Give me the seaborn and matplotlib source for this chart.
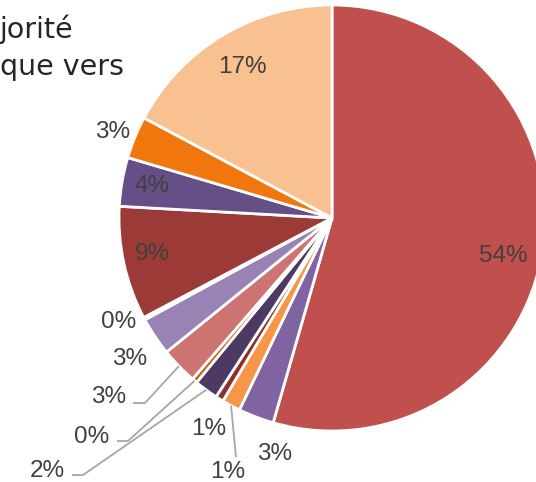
import matplotlib
matplotlib.use("Agg")
import matplotlib.pyplot as plt
import seaborn as sns
import numpy as np

# Slice shares in clockwise order starting at 12 o'clock
categories = [
    "Catégorie A", "Catégorie B", "Catégorie C", "Catégorie D", "Catégorie E",
    "Catégorie F", "Catégorie G", "Catégorie H", "Catégorie I", "Catégorie J",
    "Catégorie K", "Catégorie L", "Catégorie M",
]
shares = [54.4, 2.7, 1.4, 0.6, 1.8, 0.4, 2.8, 2.9, 0.2, 8.6, 3.7, 3.2, 17.2]
slice_colors = [
    "#C0504D", "#8064A2", "#F79646", "#8E2F2B", "#4D3A62", "#C0600E",
    "#CD7371", "#9983B5", "#E46C0A", "#9C3A38", "#664F87", "#F2760E", "#F9C090",
]
title_lines = ["jorité", "que vers"]

W, H = 536, 482
sns.set_theme(style="white")
plt.rcParams["font.family"] = ["Liberation Sans", "DejaVu Sans"]

fig = plt.figure(figsize=(W / 100, H / 100), dpi=100)
ax = fig.add_axes([0, 0, 1, 1])


def yy(y_px):
    """Top-down pixel row to axis y."""
    return H - y_px


center = (332, yy(218))
radius = 213

wedges, _ = ax.pie(
    shares,
    colors=slice_colors,
    startangle=90,
    counterclock=False,
    center=center,
    radius=radius,
    wedgeprops=dict(edgecolor="white", linewidth=2.0),
    frame=True,
)
ax.set_xlim(0, W)
ax.set_ylim(0, H)
ax.set_aspect("equal")
ax.axis("off")

total = sum(shares)
pct_labels = [f"{round(v / total * 100):.0f}%" for v in shares]

# Label anchor (x centre, baseline) and optional leader elbows
label_anchor = [
    (503, 262), (275, 460), (228, 478), (209, 435), (47, 477), (92, 443),
    (109, 403), (130, 365), (119, 328), (152, 260), (152, 192), (113, 138),
    (242, 73),
]
leaders = {
    2: [(236, 457)],
    4: [(83, 475), (72, 475)],
    5: [(128, 441), (117, 441)],
    6: [(145, 403), (133, 403)],
}

text_color = "#404040"
for i, (w, lab) in enumerate(zip(wedges, pct_labels)):
    x, y = label_anchor[i]
    ax.text(x, yy(y), lab, ha="center", va="baseline", fontsize=17.5,
            color=text_color)
    if i in leaders:
        mid = np.deg2rad((w.theta1 + w.theta2) / 2)
        sx = center[0] + radius * np.cos(mid)
        sy = center[1] + radius * np.sin(mid)
        pts = [(sx, sy)] + [(px, yy(py)) for px, py in leaders[i]]
        ax.plot([p[0] for p in pts], [p[1] for p in pts], color="#A6A6A6",
                lw=1.3, solid_capstyle="butt")

ax.text(0, yy(38), title_lines[0], ha="left", va="baseline", fontsize=20.5,
        color="#262626", family=["DejaVu Sans"])
ax.text(0, yy(75), title_lines[1], ha="left", va="baseline", fontsize=20.5,
        color="#262626", family=["DejaVu Sans"])

fig.savefig("out.png", dpi=100)
